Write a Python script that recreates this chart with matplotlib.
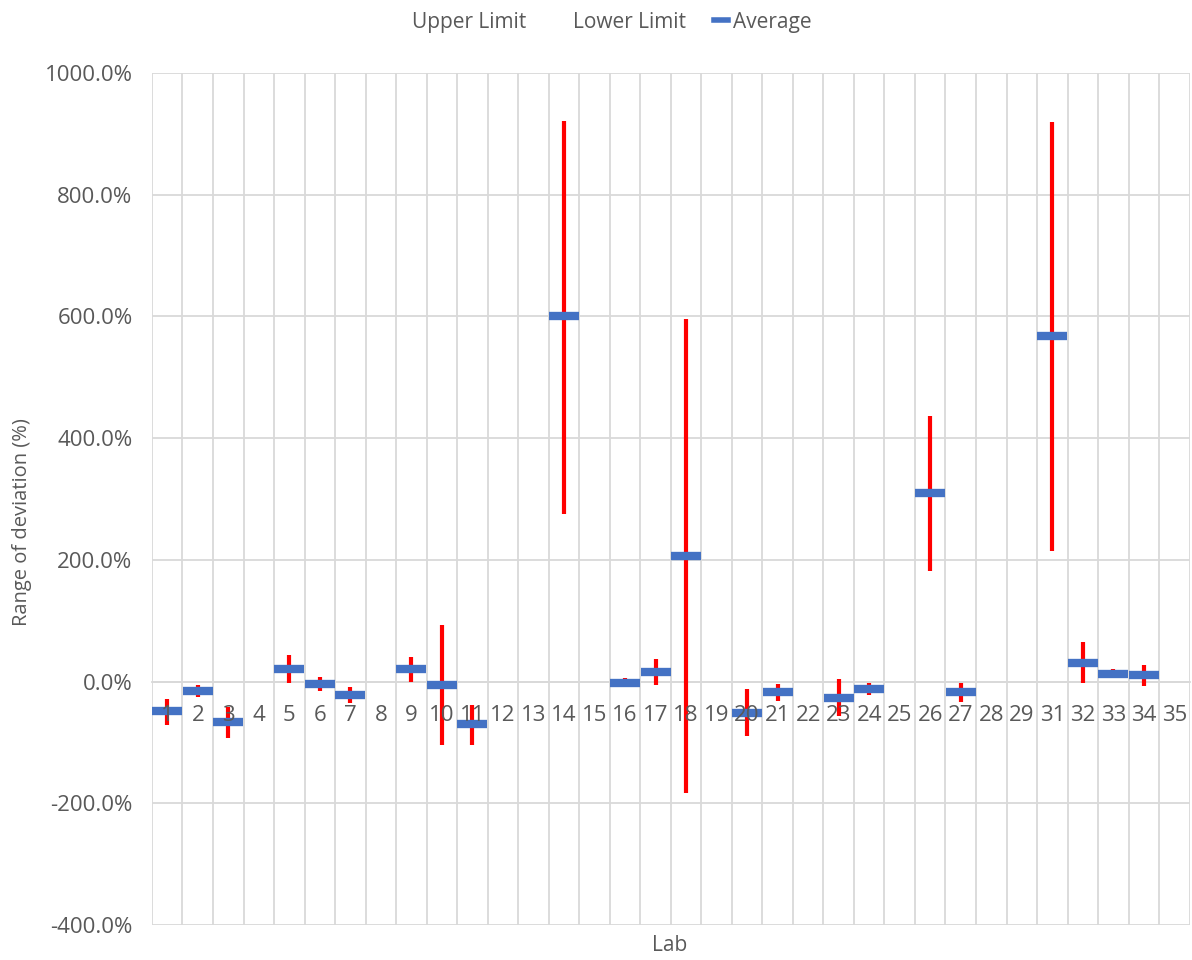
import numpy as np
import matplotlib
matplotlib.use("Agg")
import matplotlib.pyplot as plt
from matplotlib.lines import Line2D

labs = ["1", "2", "3", "4", "5", "6", "7", "8", "9", "10", "11", "12", "13", "14",
        "15", "16", "17", "18", "19", "20", "21", "22", "23", "24", "25", "26",
        "27", "28", "29", "31", "32", "33", "34", "35"]
nan = np.nan
upper = [-28, -6, -42, nan, 44, 8, -9, nan, 40, 93, -38, nan, nan, 921,
         nan, 5, 37, 596, nan, -13, -4, nan, 4, -2, nan, 437,
         -2, nan, nan, 920, 65, 21, 27, nan]
lower = [-71, -26, -93, nan, -3, -16, -36, nan, 0, -104, -104, nan, nan, 276,
         nan, -9, -5, -183, nan, -90, -32, nan, -57, -22, nan, 181,
         -33, nan, nan, 215, -3, 5, -7, nan]
average = [-49, -15, -67, nan, 21, -4, -22, nan, 20, -5, -70, nan, nan, 600,
           nan, -2, 16, 207, nan, -52, -17, nan, -27, -13, nan, 309,
           -17, nan, nan, 568, 31, 13, 10, nan]

TEXT = "#595959"
GRID = "#D9D9D9"
BLUE = "#4472C4"
plt.rcParams['font.family'] = ['Open Sans', 'DejaVu Sans']

fig = plt.figure(figsize=(11.92, 9.6), dpi=100)
ax = fig.add_axes([0.1275, 0.0365, 0.8705, 0.8875])

x = np.arange(len(labs))
up = np.array(upper, dtype=float)
lo = np.array(lower, dtype=float)
av = np.array(average, dtype=float)

ax.plot(x, up, linestyle='none')
ax.plot(x, lo, linestyle='none')
ok = ~np.isnan(up)
ax.vlines(x[ok], lo[ok], up[ok], colors='#FF0000', linewidth=3.0, zorder=3)
ax.plot(x, av, linestyle='none', marker='_', markersize=21, markeredgewidth=6,
        color=BLUE, zorder=4)

ax.set_xlim(-0.5, len(labs) - 0.5)
ax.set_ylim(-400, 1000)
yt = np.arange(-400, 1001, 200)
ax.set_yticks(yt)
ax.set_yticklabels([f"{v:.1f}%" for v in yt])
ax.set_xticks(x)
ax.set_xticklabels([])
ax.set_xticks(np.arange(-0.5, len(labs), 1.0), minor=True)

# category labels next to the zero axis, drawn above the marks
for xi, lab in zip(x, labs):
    ax.annotate(lab, xy=(xi, 0), xytext=(0, -17), textcoords='offset points',
                ha='center', va='top', color=TEXT, fontsize=16, zorder=6,
                annotation_clip=False)

ax.grid(axis='y', which='major', color=GRID, linewidth=1.3)
ax.grid(axis='x', which='minor', color=GRID, linewidth=1.3)
ax.set_axisbelow(True)

for s in ['top', 'right', 'left']:
    ax.spines[s].set_visible(False)
ax.spines['bottom'].set_position(('data', 0))
ax.spines['bottom'].set_color(GRID)
ax.spines['bottom'].set_linewidth(1.3)
ax.spines['bottom'].set_zorder(0.6)

ax.tick_params(axis='both', which='both', length=0, colors=TEXT, labelsize=16)
ax.tick_params(axis='y', pad=14)

fig.text(0.0185, 0.456, "Range of deviation (%)", color=TEXT, fontsize=14.5,
         rotation=90, ha='center', va='center')
fig.text(0.562, 0.015, "Lab", color=TEXT, fontsize=15, ha='center', va='center')

handles = [Line2D([], [], linestyle='none'),
           Line2D([], [], linestyle='none'),
           Line2D([], [], linestyle='-', color=BLUE, linewidth=4.0)]
fig.legend(handles, ['Upper Limit', 'Lower Limit', 'Average'],
           loc='center', bbox_to_anchor=(0.505, 0.977), ncol=3, frameon=False,
           fontsize=15, handlelength=0.7, handletextpad=0.2, columnspacing=1.35,
           labelcolor=TEXT)

fig.savefig("out.png", dpi=100)
